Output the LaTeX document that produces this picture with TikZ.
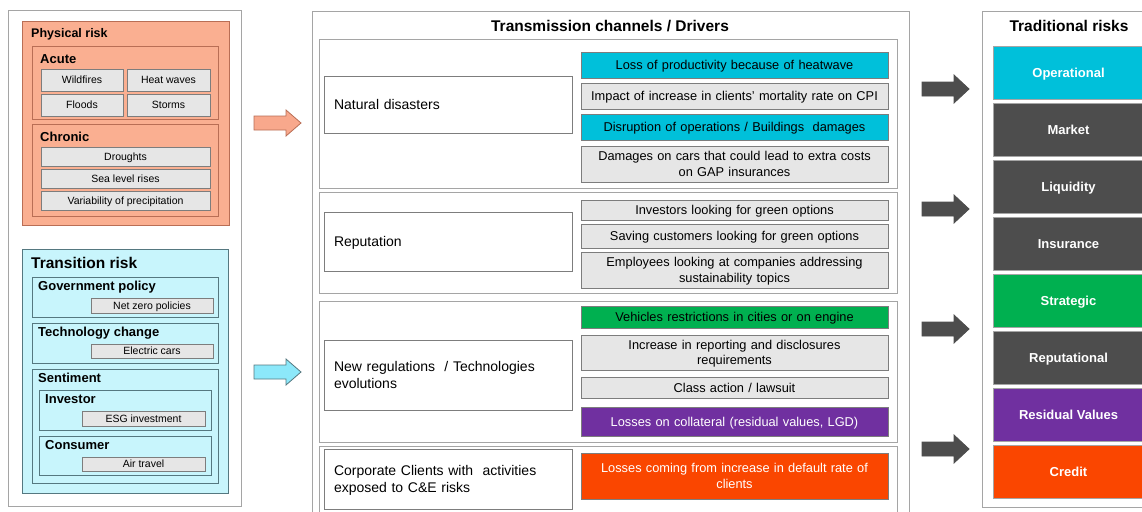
\documentclass[tikz,border=0pt]{standalone}
\usepackage{fontspec}
\setmainfont{Liberation Sans}
\usepackage{xcolor}

\definecolor{salmon}{RGB}{250,175,145}
\definecolor{salmonline}{RGB}{185,110,85}
\definecolor{iceblue}{RGB}{200,245,252}
\definecolor{iceline}{RGB}{85,120,128}
\definecolor{boxgray}{RGB}{230,230,230}
\definecolor{linegray}{RGB}{125,125,125}
\definecolor{framegray}{RGB}{165,165,165}
\definecolor{riskcyan}{RGB}{0,192,218}
\definecolor{riskgreen}{RGB}{0,176,80}
\definecolor{riskpurple}{RGB}{112,48,160}
\definecolor{riskorange}{RGB}{250,70,0}
\definecolor{riskdark}{RGB}{77,77,77}
\definecolor{arrowsalmon}{RGB}{248,168,140}
\definecolor{arrowcyan}{RGB}{140,232,250}

\begin{document}
\begin{tikzpicture}[x=1pt, y=-1pt,
    capcenter/.style={execute at begin node={\rule{0pt}{1em}}, execute at end node={\rule[-0.284em]{0pt}{0pt}}},
    frame/.style={draw=framegray, line width=1pt},
    head/.style={anchor=west, inner sep=0pt, font=\bfseries\fontsize{13}{15}\selectfont},
    item/.style={draw=linegray, fill=boxgray, line width=0.8pt, inner sep=0pt, align=center, capcenter, font=\fontsize{10.5}{12}\selectfont},
    channel/.style={draw=linegray, fill=white, line width=0.8pt, minimum width=248pt, text width=228pt, inner sep=0pt, align=left, capcenter, font=\fontsize{14}{17}\selectfont},
    driver/.style={draw=linegray, fill=boxgray, line width=0.8pt, minimum width=307pt, text width=300pt, inner sep=0pt, align=center, capcenter, font=\fontsize{12.8}{15.5}\selectfont},
    trad/.style={draw=framegray, line width=0.8pt, minimum width=151pt, minimum height=53pt, inner sep=0pt, capcenter, text=white, font=\bfseries\fontsize{13}{15}\selectfont},
    bigarrow/.style={line width=0.8pt}]

    \useasboundingbox (0,0) rectangle (1142,511);
    \clip (0,0) rectangle (1142,511);
    \fill[white] (0,0) rectangle (1142,511);

    % left column: climate risks
    \draw[frame, fill=white] (8,11) rectangle (241,506);

    \draw[fill=salmon, draw=salmonline, line width=1pt] (22,22) rectangle (229,225);
    \node[head, font=\bfseries\fontsize{12.5}{15}\selectfont] (phys) at (31,34) {Physical risk};
    \draw[draw=salmonline, line width=0.8pt] (32,46) rectangle (218,119);
    \node[head] (acute) at (40,59) {Acute};
    \node[item, minimum width=82pt, minimum height=22pt] (wild) at (82,80) {Wildfires};
    \node[item, minimum width=83pt, minimum height=22pt] (heat) at (168.5,80) {Heat waves};
    \node[item, minimum width=82pt, minimum height=22pt] (flood) at (82,105) {Floods};
    \node[item, minimum width=83pt, minimum height=22pt] (storm) at (168.5,105) {Storms};
    \draw[draw=salmonline, line width=0.8pt] (32,124) rectangle (218,216);
    \node[head] (chronic) at (40,137) {Chronic};
    \node[item, minimum width=169pt, minimum height=19pt] (drought) at (125.5,156.5) {Droughts};
    \node[item, minimum width=169pt, minimum height=19pt] (sea) at (125.5,178.5) {Sea level rises};
    \node[item, minimum width=169pt, minimum height=19pt] (precip) at (125.5,200.5) {Variability of precipitation};

    \draw[fill=iceblue, draw=iceline, line width=1pt] (22,249) rectangle (228,493);
    \node[head, font=\bfseries\fontsize{15.5}{18}\selectfont] (trans) at (31,263) {Transition risk};
    \draw[draw=iceline, line width=0.8pt] (32,277) rectangle (218,317);
    \node[head] (gov) at (38,287) {Government policy};
    \node[item, minimum width=122pt, minimum height=15pt] (netzero) at (152,305.5) {Net zero policies};
    \draw[draw=iceline, line width=0.8pt] (32,323) rectangle (218,363);
    \node[head] (tech) at (38,333) {Technology change};
    \node[item, minimum width=122pt, minimum height=14pt] (ecars) at (152,351) {Electric cars};
    \draw[draw=iceline, line width=0.8pt] (32,369) rectangle (218,483);
    \node[head] (senti) at (38,378) {Sentiment};
    \draw[draw=iceline, line width=0.8pt] (39,390) rectangle (211,430);
    \node[head] (inv) at (45,399) {Investor};
    \node[item, minimum width=123pt, minimum height=15pt] (esg) at (143.5,418.5) {ESG investment};
    \draw[draw=iceline, line width=0.8pt] (39,436) rectangle (211,475);
    \node[head] (cons) at (45,445) {Consumer};
    \node[item, minimum width=123pt, minimum height=14pt] (air) at (143.5,464) {Air travel};

    % arrows into the channels
    \draw[bigarrow, fill=arrowsalmon, draw=salmonline] (254,116) -- (286,116) -- (286,110) -- (301,123) -- (286,136) -- (286,130) -- (254,130) -- cycle;
    \draw[bigarrow, fill=arrowcyan, draw=iceline] (254,365) -- (286,365) -- (286,359) -- (301,372) -- (286,385) -- (286,379) -- (254,379) -- cycle;

    % middle column: transmission channels
    \draw[frame, fill=white] (312,12) rectangle (909,530);
    \node[font=\bfseries\fontsize{15.5}{18}\selectfont] (tctitle) at (610,26) {Transmission channels / Drivers};
    \draw[frame] (319,40) rectangle (897,188);
    \draw[frame] (319,192) rectangle (897,293);
    \draw[frame] (319,301) rectangle (897,442);
    \draw[frame] (319,446) rectangle (897,525);

    \node[channel, minimum height=57pt] (natural) at (448,104.5) {Natural disasters};
    \node[channel, minimum height=59pt] (reput) at (448,241.5) {Reputation};
    \node[channel, minimum height=70pt] (newreg) at (448,375) {New regulations\ \ / Technologies evolutions};
    \node[channel, minimum height=60pt] (corp) at (448,479) {Corporate Clients with\ \ activities exposed to C\&E risks};

    \node[driver, fill=riskcyan, minimum height=26pt] (prod) at (734.5,65) {Loss of productivity because of heatwave};
    \node[driver, minimum height=26pt] (mort) at (734.5,96) {Impact of increase in clients' mortality rate on CPI};
    \node[driver, fill=riskcyan, minimum height=26pt] (disr) at (734.5,127) {Disruption of operations / Buildings\ \ damages};
    \node[driver, minimum height=36pt] (cars) at (734.5,164) {Damages on cars that could lead to extra costs\\on GAP insurances};

    \node[driver, minimum height=20pt] (invgreen) at (734.5,210) {Investors looking for green options};
    \node[driver, minimum height=24pt] (savgreen) at (734.5,236) {Saving customers looking for green options};
    \node[driver, minimum height=36pt] (empl) at (734.5,270) {Employees looking at companies addressing\\sustainability topics};

    \node[driver, fill=riskgreen, minimum height=22pt] (vehic) at (734.5,317) {Vehicles restrictions in cities or on engine};
    \node[driver, minimum height=35pt] (report) at (734.5,352.5) {Increase in reporting and disclosures\\requirements};
    \node[driver, minimum height=21pt] (lawsuit) at (734.5,387.5) {Class action / lawsuit};
    \node[driver, fill=riskpurple, text=white, minimum height=29pt] (collat) at (734.5,421.5) {Losses on collateral (residual values, LGD)};

    \node[driver, fill=riskorange, text=white, minimum height=46pt] (default) at (734.5,476) {Losses coming from increase in default rate of\\clients};

    % arrows into the traditional risks
    \foreach \y in {89,209,329,449}
        \draw[bigarrow, fill=riskdark, draw=riskdark] (922,{\y-7}) -- (954,{\y-7}) -- (954,{\y-14}) -- (969,\y) -- (954,{\y+14}) -- (954,{\y+7}) -- (922,{\y+7}) -- cycle;

    % right column: traditional risks
    \draw[frame, fill=white] (982,12) rectangle (1150,507);
    \node[font=\bfseries\fontsize{15.5}{18}\selectfont] (trtitle) at (1069,26) {Traditional risks};
    \foreach \name/\col/\txt [count=\i from 0] in {oper/riskcyan/Operational, market/riskdark/Market,
        liqu/riskdark/Liquidity, insur/riskdark/Insurance, strat/riskgreen/Strategic,
        repu/riskdark/Reputational, resid/riskpurple/Residual Values, credit/riskorange/Credit}
        \node[trad, fill=\col] (\name) at (1068.5,{73+57*\i}) {\txt};

\end{tikzpicture}
\end{document}
